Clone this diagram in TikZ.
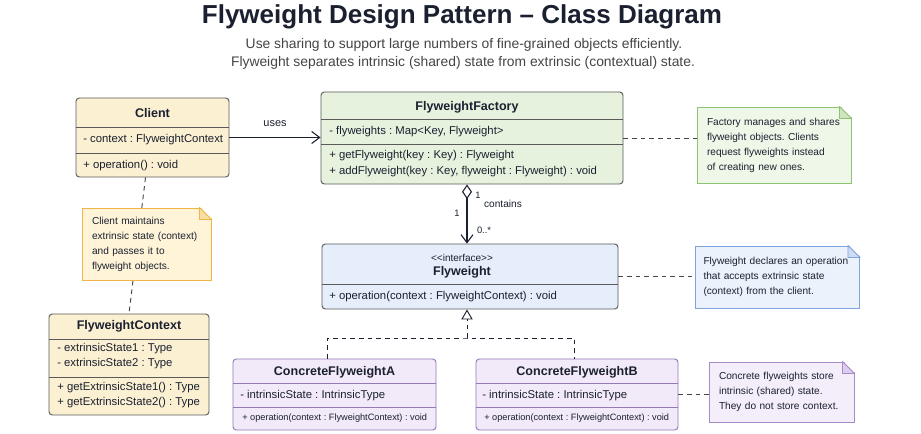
\documentclass[tikz,border=0pt]{standalone}
\usepackage{fontspec}
\setmainfont{Liberation Sans}
\usetikzlibrary{arrows.meta,calc}
\frenchspacing

\definecolor{inkdark}{HTML}{1B2030}
\definecolor{inkgray}{HTML}{454545}
\definecolor{boxline}{HTML}{5A5A5A}
\definecolor{clientfill}{HTML}{FBF0D2}
\definecolor{clientnotefill}{HTML}{FFF4D8}
\definecolor{clientnoteline}{HTML}{F0B545}
\definecolor{clientfold}{HTML}{F6DFA6}
\definecolor{factoryfill}{HTML}{E7F2DE}
\definecolor{factorynotefill}{HTML}{EEF7E8}
\definecolor{factorynoteline}{HTML}{8CC270}
\definecolor{factoryfold}{HTML}{CFE5BF}
\definecolor{flyfill}{HTML}{E5EEFA}
\definecolor{flynotefill}{HTML}{EBF2FC}
\definecolor{flynoteline}{HTML}{7FA3DD}
\definecolor{flyfold}{HTML}{CCDCF4}
\definecolor{concretefill}{HTML}{F2EAF8}
\definecolor{concreteline}{HTML}{9379B5}
\definecolor{concretenotefill}{HTML}{F4EDFA}
\definecolor{concretenoteline}{HTML}{A88BC9}
\definecolor{concretefold}{HTML}{DDCDEC}

% folded corner of a note
\newcommand{\notefold}[3]{%
  \fill[white] ($(#1.north east)+(-12,-1.5)$) -- ($(#1.north east)+(1.5,-1.5)$) -- ($(#1.north east)+(1.5,12)$) -- cycle;
  \filldraw[fill=#2, draw=#3, line width=0.7pt, line join=round] ($(#1.north east)+(-12,0)$) -- ($(#1.north east)+(0,12)$) -- ($(#1.north east)+(-12,12)$) -- cycle;
}

\begin{document}
\begin{tikzpicture}[x=0.75pt, y=-0.75pt,
    umlbox/.style={draw=boxline, rounded corners=2.5pt, line width=0.7pt, inner sep=0pt},
    divider/.style={draw=boxline, line width=0.7pt},
    member/.style={anchor=west, inner sep=0pt, text=inkdark, font=\fontsize{8.5}{10}\selectfont},
    smallmember/.style={anchor=west, inner sep=0pt, text=inkdark, font=\fontsize{6.9}{8}\selectfont},
    classname/.style={inner sep=0pt, text=inkdark, font=\bfseries\fontsize{9.4}{11}\selectfont},
    notebox/.style={line width=0.7pt, align=left, inner xsep=7.5pt, inner ysep=0pt, text=inkdark, font=\fontsize{7.6}{11.3}\selectfont},
    notelink/.style={draw=inkgray, line width=0.7pt, dash pattern=on 3.5pt off 3pt},
    assoc/.style={draw=inkdark, line width=0.8pt, -{Straight Barb[length=6pt, width=9pt]}},
    lbl/.style={inner sep=0pt, text=inkdark, font=\fontsize{8.2}{10}\selectfont},
    mult/.style={inner sep=0pt, text=inkdark, font=\fontsize{7}{8}\selectfont}]

    \useasboundingbox (0,0) rectangle (921,434);
    \fill[white] (0,0) rectangle (921,434);

    % title
    \node[inner sep=0pt, text=inkdark, font=\bfseries\fontsize{19.5}{22}\selectfont] (title) at (462,17) {Flyweight Design Pattern -- Class Diagram};
    \node[inner sep=0pt, text=inkgray, font=\fontsize{10.4}{12}\selectfont] (sub1) at (464,45) {Use sharing to support large numbers of fine-grained objects efficiently.};
    \node[inner sep=0pt, text=inkgray, font=\fontsize{10.4}{12}\selectfont] (sub2) at (463,63) {Flyweight separates intrinsic (shared) state from extrinsic (contextual) state.};

    % Client
    \node[umlbox, fill=clientfill, minimum width=114.75pt, minimum height=59.25pt] (client) at (152.5,137.5) {};
    \draw[divider] (76,127) -- (229,127);
    \draw[divider] (76,153) -- (229,153);
    \node[classname] (client-name) at (152.5,113) {Client};
    \node[member] (client-ctx) at (83,140) {- context : FlyweightContext};
    \node[member] (client-op) at (83,166) {+ operation() : void};

    % FlyweightContext
    \node[umlbox, fill=clientfill, minimum width=120pt, minimum height=75.75pt] (context) at (129,364.5) {};
    \draw[divider] (49,339) -- (209,339);
    \draw[divider] (49,377) -- (209,377);
    \node[classname] (context-name) at (129,326) {FlyweightContext};
    \node[member] (context-s1) at (57,349) {- extrinsicState1 : Type};
    \node[member] (context-s2) at (57,364) {- extrinsicState2 : Type};
    \node[member] (context-g1) at (57,388) {+ getExtrinsicState1() : Type};
    \node[member] (context-g2) at (57,403) {+ getExtrinsicState2() : Type};

    %% client note (the tie runs behind it)
    \draw[notelink] ($(client.south)+(-7,0)$) -- (context.north);
    \node[notebox, draw=clientnoteline, fill=clientnotefill, text width=81.75pt, minimum height=54pt] (clientnote) at (146.5,244) {Client maintains\\extrinsic state (context)\\and passes it to\\flyweight objects.};
    \notefold{clientnote}{clientfold}{clientnoteline}

    % FlyweightFactory
    \node[umlbox, fill=factoryfill, minimum width=226.5pt, minimum height=69pt] (factory) at (472,138) {};
    \draw[divider] (321,119) -- (623,119);
    \draw[divider] (321,144) -- (623,144);
    \node[classname] (factory-name) at (467,107) {FlyweightFactory};
    \node[member] (factory-map) at (329,132) {- flyweights : Map<Key, Flyweight>};
    \node[member] (factory-get) at (329,156) {+ getFlyweight(key : Key) : Flyweight};
    \node[member] (factory-add) at (329,172) {+ addFlyweight(key : Key, flyweight : Flyweight) : void};

    %% factory note
    \node[notebox, draw=factorynoteline, fill=factorynotefill, text width=100.5pt, minimum height=57pt] (factorynote) at (774,145) {Factory manages and shares\\flyweight objects. Clients\\request flyweights instead\\of creating new ones.};
    \notefold{factorynote}{factoryfold}{factorynoteline}

    % Flyweight interface
    \node[umlbox, fill=flyfill, minimum width=222pt, minimum height=48.75pt] (flyweight) at (470,276.5) {};
    \draw[divider] (322,284) -- (618,284);
    \node[inner sep=0pt, text=inkdark, font=\fontsize{7.5}{9}\selectfont] (fly-stereo) at (462,258) {<\kern0pt<interface>\kern0pt>};
    \node[classname] (fly-name) at (462,272) {Flyweight};
    \node[member] (fly-op) at (329,297) {+ operation(context : FlyweightContext) : void};

    %% flyweight note
    \node[notebox, inner xsep=6pt, draw=flynoteline, fill=flynotefill, text width=111pt, minimum height=46.5pt] (flynote) at (777.5,277) {Flyweight declares an operation\\that accepts extrinsic state\\(context) from the client.};
    \notefold{flynote}{flyfold}{flynoteline}

    % ConcreteFlyweightA
    \node[umlbox, draw=concreteline, fill=concretefill, minimum width=152.25pt, minimum height=53.25pt] (cfa) at (334.5,394.5) {};
    \draw[divider, draw=concreteline] (233,383) -- (436,383);
    \draw[divider, draw=concreteline] (233,407) -- (436,407);
    \node[classname] (cfa-name) at (334.5,372) {ConcreteFlyweightA};
    \node[member] (cfa-state) at (240,396) {- intrinsicState : IntrinsicType};
    \node[smallmember] (cfa-op) at (242,418) {+ operation(context : FlyweightContext) : void};

    % ConcreteFlyweightB
    \node[umlbox, draw=concreteline, fill=concretefill, minimum width=151.5pt, minimum height=53.25pt] (cfb) at (577,394.5) {};
    \draw[divider, draw=concreteline] (476,383) -- (678,383);
    \draw[divider, draw=concreteline] (476,407) -- (678,407);
    \node[classname] (cfb-name) at (577,372) {ConcreteFlyweightB};
    \node[member] (cfb-state) at (482,396) {- intrinsicState : IntrinsicType};
    \node[smallmember] (cfb-op) at (484,418) {+ operation(context : FlyweightContext) : void};

    %% concrete note
    \node[notebox, draw=concretenoteline, fill=concretenotefill, text width=93.75pt, minimum height=45pt] (concretenote) at (781.5,392) {Concrete flyweights store\\intrinsic (shared) state.\\They do not store context.};
    \notefold{concretenote}{concretefold}{concretenoteline}

    % connectors
    \draw[assoc] (client.east) -- (client.east -| factory.west) node[lbl, midway, above=8pt] (uses) {uses};
    \draw[notelink] (factory.east) -- (factory.east -| factorynote.west);
    \draw[notelink] (flyweight.east) -- (flyweight.east -| flynote.west);
    \draw[notelink] (cfb.east) -- (cfb.east -| concretenote.west);

    %% aggregation
    \coordinate (aggx) at (467,0);
    \draw[draw=inkdark, line width=0.8pt, {Diamond[open, length=11pt, width=7.5pt]}-{Straight Barb[length=6pt, width=9pt]}] (factory.south -| aggx) -- (flyweight.north -| aggx);
    \node[mult] (mult-top) at (478,195) {1};
    \node[lbl, font=\fontsize{7.6}{9}\selectfont] (contains) at (503,204) {contains};
    \node[mult] (mult-left) at (457,213) {1};
    \node[mult] (mult-many) at (484,230) {0..*};

    %% realization
    \coordinate (rjoin) at (467,338);
    \draw[notelink, draw=inkdark] ($(cfa.north)+(-7,0)$) |- (rjoin) -| ($(cfb.north)+(-3,0)$);
    \draw[notelink, draw=inkdark, -{Triangle[open, length=7.5pt, width=8.5pt]}] (rjoin) -- (flyweight.south -| rjoin);

\end{tikzpicture}
\end{document}
